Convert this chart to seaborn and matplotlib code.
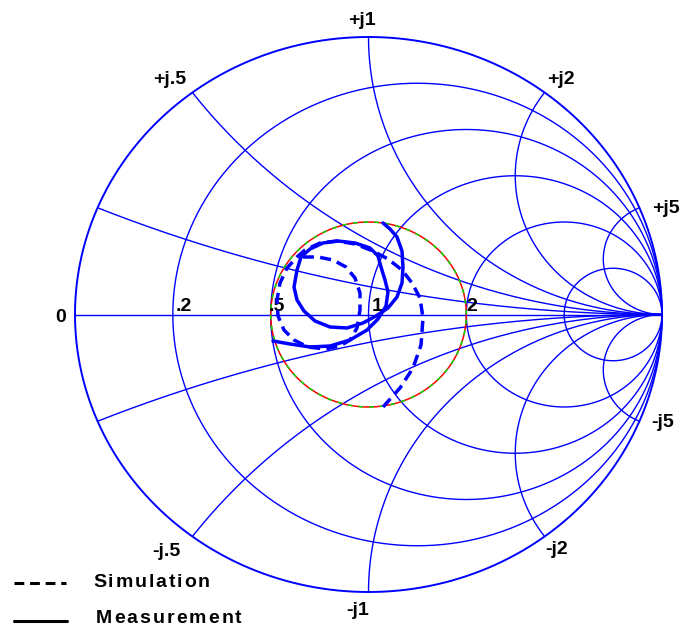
import numpy as np
import pandas as pd
import matplotlib
matplotlib.use("Agg")
import matplotlib.pyplot as plt
from matplotlib.font_manager import FontProperties
import seaborn as sns

# Reflection coefficient traces (real part, imaginary part)
sim_re = [0.0494, 0.1073, 0.1516, 0.1789, 0.1857, 0.1755, 0.1482, 0.1141, 0.0664,
          0.0153, -0.0460, -0.1073, -0.1652, -0.2164, -0.2436, -0.2777, -0.3015,
          -0.3118, -0.3083, -0.2879, -0.2538, -0.2061, -0.1482, -0.0971, -0.0630,
          -0.0392, -0.0290, -0.0290, -0.0460, -0.0767, -0.1209, -0.1721, -0.2232]
sim_im = [-0.3333, -0.2649, -0.1928, -0.1099, -0.0126, 0.0595, 0.1135, 0.1604, 0.2000,
          0.2288, 0.2541, 0.2649, 0.2577, 0.2324, 0.2072, 0.1676, 0.1135,
          0.0523, -0.0054, -0.0559, -0.0919, -0.1171, -0.1243, -0.1135, -0.0919,
          -0.0486, 0.0162, 0.0775, 0.1315, 0.1712, 0.1964, 0.2072, 0.2072]

meas_re = [-0.3254, -0.2675, -0.1993, -0.1312, -0.0630, -0.0051, 0.0324, 0.0596, 0.0664,
           0.0562, 0.0426, 0.0324, 0.0051, -0.0460, -0.1039, -0.1550, -0.1993, -0.2300,
           -0.2436, -0.2538, -0.2436, -0.2198, -0.1823, -0.1312, -0.0733, -0.0187,
           0.0256, 0.0664, 0.0971, 0.1141, 0.1175, 0.1141, 0.0971, 0.0733, 0.0494]
meas_im = [-0.0955, -0.1063, -0.1171, -0.1135, -0.0919, -0.0559, -0.0162, 0.0306, 0.0811,
           0.1243, 0.1712, 0.2108, 0.2396, 0.2577, 0.2649, 0.2577, 0.2360, 0.2072,
           0.1604, 0.0991, 0.0523, 0.0126, -0.0234, -0.0450, -0.0486, -0.0306,
           -0.0054, 0.0234, 0.0631, 0.1135, 0.1712, 0.2288, 0.2793, 0.3081, 0.3297]

# Smith chart grid values
resistances = [0.2, 0.5, 1, 2, 5]
reactances = [0.2, 0.5, 1, 2, 5]
r_label_values = [0, 0.2, 0.5, 1, 2]
r_label_texts = ["0", ".2", ".5", "1", "2"]
x_label_values = [0.5, 1, 2, 5, -0.5, -1, -2, -5]
x_label_texts = ["+j.5", "+j1", "+j2", "+j5", "-j.5", "-j1", "-j2", "-j5"]
vswr_radius = 1 / 3

W, H = 683, 627
sns.set_theme(style="white")
plt.rcParams["font.family"] = ["Liberation Sans", "DejaVu Sans"]

fig = plt.figure(figsize=(W / 100, H / 100), dpi=100)
ax = fig.add_axes([0, 0, 1, 1])
cx, cy, sx, sy = 368.5, 314.5, 293.5, 277.5
ax.set_xlim(-cx / sx, (W - cx) / sx)
ax.set_ylim((cy - H) / sy, cy / sy)
ax.axis("off")

BLUE = "#0000ff"
grid_kw = dict(color=BLUE, lw=1.0, solid_capstyle="round", zorder=1)
label_kw = dict(fontsize=14, fontweight="bold", color="black")


def gamma(z):
    return (z - 1) / (z + 1)


# outer circle and constant-resistance circles
t = np.linspace(0, 2 * np.pi, 721)
ax.plot(np.cos(t), np.sin(t), color=BLUE, lw=1.4, zorder=1)
for r in resistances:
    c, rad = r / (1 + r), 1 / (1 + r)
    ax.plot(c + rad * np.cos(t), rad * np.sin(t), **grid_kw)

# real axis and constant-reactance arcs
ax.plot([-1, 1], [0, 0], **grid_kw)
rr = np.concatenate(([0.0], np.geomspace(1e-3, 1e5, 800)))
for x in reactances:
    for sgn in (1, -1):
        g = gamma(rr + 1j * sgn * x)
        ax.plot(g.real, g.imag, **grid_kw)

# VSWR = 2 circle, red with green dashes
ax.plot(vswr_radius * np.cos(t), vswr_radius * np.sin(t), color="#ff0000", lw=1.1, zorder=2)
ax.plot(vswr_radius * np.cos(t), vswr_radius * np.sin(t), color="#00dd00", lw=1.1,
        dashes=(3, 4), zorder=2)

# resistance labels on the real axis
for val, txt in zip(r_label_values, r_label_texts):
    gx = gamma(val + 0j).real
    if val == 0:
        ax.annotate(txt, (gx, 0), xytext=(-14, -7.5), textcoords="offset pixels",
                    ha="center", va="baseline", **label_kw)
    else:
        dx = {0.2: 3, 0.5: -2, 1: 3, 2: 0}[val]
        ax.annotate(txt, (gx, 0), xytext=(dx, 3.5), textcoords="offset pixels",
                    ha="left", va="baseline", **label_kw)

# reactance labels around the rim
x_offsets = {0.5: (-23, 8), 1: (-7, 12), 2: (16, 9), 5: (27, -5),
             -0.5: (-26, -19), -1: (-11, -23), -2: (12, -18), -5: (23, -6)}
for val, txt in zip(x_label_values, x_label_texts):
    g = gamma(1j * val)
    ax.annotate(txt, (g.real, g.imag), xytext=x_offsets[val], textcoords="offset pixels",
                ha="center", va="baseline", **label_kw)

# measured and simulated traces
sim_df = pd.DataFrame({"re": sim_re, "im": sim_im})
meas_df = pd.DataFrame({"re": meas_re, "im": meas_im})
sns.lineplot(data=sim_df, x="re", y="im", sort=False, estimator=None, ax=ax,
             color=BLUE, lw=2.5, zorder=3)
ax.lines[-1].set_dashes((3.2, 1.8))
sns.lineplot(data=meas_df, x="re", y="im", sort=False, estimator=None, ax=ax,
             color=BLUE, lw=2.5, zorder=3)
ax.set_xlabel("")
ax.set_ylabel("")


# legend drawn in pixel positions
def px(x, y):
    return x / W, 1 - y / H


leg_a, leg_b = px(14, 583), px(66, 583)
fig.add_artist(plt.Line2D([leg_a[0], leg_b[0]], [leg_a[1], leg_b[1]], color="black",
                          lw=2.2, dashes=(3.2, 1.9), transform=fig.transFigure))
leg_a, leg_b = px(14, 621), px(67, 621)
fig.add_artist(plt.Line2D([leg_a[0], leg_b[0]], [leg_a[1], leg_b[1]], color="black",
                          lw=2.2, transform=fig.transFigure))

renderer = fig.canvas.get_renderer()
prop = FontProperties(family="Liberation Sans", weight="bold", size=14)


def spaced_text(x_px, y_px, s, spacing):
    for i, ch in enumerate(s):
        w = renderer.get_text_width_height_descent(s[:i], prop, ismath=False)[0] if i else 0
        fx, fy = px(x_px + w + i * spacing, y_px)
        fig.text(fx, fy, ch, fontproperties=prop, ha="left", va="baseline", color="black")


spaced_text(93, 587, "Simulation", 1.9)
spaced_text(96, 623, "Measurement", 2.0)

fig.savefig("out.png", dpi=100)
